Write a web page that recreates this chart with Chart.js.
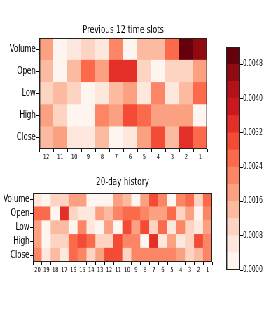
<!DOCTYPE html>
<html>
<head>
<meta charset="utf-8">
<script src="https://cdn.jsdelivr.net/npm/chart.js@4/dist/chart.umd.min.js"></script>
<style>
  body { margin: 0; background: #fff; width: 266px; height: 318px; position: relative; overflow: hidden; }
  #wrap { position: absolute; left: 0; top: 0; width: 380px; height: 318px; transform: scaleX(0.7); transform-origin: 0 0; }
  canvas { position: absolute; }
</style>
</head>
<body>
<div id="wrap">
<canvas id="top" style="left:0;top:20px;width:300px;height:140px"></canvas>
<canvas id="bottom" style="left:0;top:170px;width:306px;height:105px"></canvas>
<canvas id="cbar" style="left:310px;top:40px;width:70px;height:240px"></canvas>
</div>
<script>
const FONT = "'DejaVu Sans', sans-serif";

const rowNames = ['Volume', 'Open', 'Low', 'High', 'Close'];
const slotLabels = ['12', '11', '10', '9', '8', '7', '6', '5', '4', '3', '2', '1'];
const dayLabels = ['20', '19', '18', '17', '16', '15', '14', '13', '12', '11', '10', '9', '8', '7', '6', '5', '4', '3', '2', '1'];

// previous 12 time slots
const slotVolume = [0.0018, 0.0002, 0.0006, 0.0010, 0.0006, 0.0022, 0.0002, 0.0014, 0.0014, 0.0026, 0.0050, 0.0046];
const slotOpen   = [0.0014, 0.0002, 0.0014, 0.0026, 0.0018, 0.0034, 0.0034, 0.0010, 0.0002, 0.0010, 0.0010, 0.0018];
const slotLow    = [0.0010, 0.0014, 0.0010, 0.0002, 0.0006, 0.0014, 0.0018, 0.0006, 0.0022, 0.0006, 0.0014, 0.0026];
const slotHigh   = [0.0018, 0.0010, 0.0002, 0.0002, 0.0022, 0.0018, 0.0030, 0.0026, 0.0018, 0.0018, 0.0018, 0.0002];
const slotClose  = [0.0014, 0.0018, 0.0006, 0.0006, 0.0014, 0.0002, 0.0006, 0.0018, 0.0030, 0.0014, 0.0034, 0.0026];

// 20-day history
const dayVolume = [0.0006, 0.0002, 0.0010, 0.0010, 0.0018, 0.0018, 0.0002, 0.0002, 0.0002, 0.0018, 0.0014, 0.0002, 0.0018, 0.0030, 0.0022, 0.0002, 0.0022, 0.0026, 0.0010, 0.0026];
const dayOpen   = [0.0026, 0.0026, 0.0002, 0.0034, 0.0010, 0.0006, 0.0006, 0.0018, 0.0014, 0.0022, 0.0026, 0.0026, 0.0022, 0.0018, 0.0018, 0.0026, 0.0010, 0.0018, 0.0002, 0.0022];
const dayLow    = [0.0018, 0.0002, 0.0014, 0.0014, 0.0002, 0.0022, 0.0006, 0.0002, 0.0018, 0.0002, 0.0030, 0.0018, 0.0030, 0.0010, 0.0026, 0.0006, 0.0022, 0.0010, 0.0006, 0.0018];
const dayHigh   = [0.0018, 0.0002, 0.0010, 0.0010, 0.0026, 0.0030, 0.0026, 0.0010, 0.0010, 0.0030, 0.0022, 0.0022, 0.0002, 0.0034, 0.0006, 0.0018, 0.0006, 0.0010, 0.0030, 0.0022];
const dayClose  = [0.0022, 0.0006, 0.0014, 0.0006, 0.0026, 0.0022, 0.0010, 0.0018, 0.0030, 0.0030, 0.0010, 0.0022, 0.0022, 0.0022, 0.0022, 0.0022, 0.0018, 0.0010, 0.0014, 0.0022];

// colour bar levels
const levelStep = 0.0004;
const levelCount = 13;
const cbarTicks = [0, 0.0008, 0.0016, 0.0024, 0.0032, 0.0040, 0.0048];
const reds = [
    '#fff5f0', '#fee7dc', '#fdd4c2', '#fcbba1', '#fca082', '#fc8565', '#fb6a4a',
    '#f34b36', '#e32f27', '#cb181d', '#b21218', '#900a12', '#67000d'
];

function colorFor(v) {
    let i = Math.floor(v / levelStep);
    return reds[Math.max(0, Math.min(levelCount - 1, i))];
}

// matplotlib style box round the axes; vertical lines a bit thicker since the page is squeezed
const frame = {
    id: 'frame',
    afterDraw(chart) {
        const a = chart.chartArea, ctx = chart.ctx;
        const l = Math.round(a.left), r = Math.round(a.right);
        const t = Math.round(a.top), b = Math.round(a.bottom);
        ctx.save();
        ctx.strokeStyle = '#222';
        ctx.lineWidth = 1;
        ctx.beginPath();
        ctx.moveTo(l, t + 0.5); ctx.lineTo(r, t + 0.5);
        ctx.moveTo(l, b - 0.5); ctx.lineTo(r, b - 0.5);
        ctx.stroke();
        ctx.lineWidth = 1.4;
        ctx.beginPath();
        ctx.moveTo(l + 0.7, t); ctx.lineTo(l + 0.7, b);
        ctx.moveTo(r - 0.7, t); ctx.lineTo(r - 0.7, b);
        ctx.stroke();
        ctx.restore();
    }
};

// title centred over the plot area, like matplotlib does
const areaTitle = {
    id: 'areaTitle',
    afterDraw(chart, args, opts) {
        if (!opts.text) return;
        const a = chart.chartArea, ctx = chart.ctx;
        ctx.save();
        ctx.fillStyle = '#000';
        ctx.font = '10.5px ' + FONT;
        ctx.textAlign = 'center';
        ctx.textBaseline = 'middle';
        ctx.fillText(opts.text, (a.left + a.right) / 2, opts.y);
        ctx.restore();
    }
};

function heatmap(canvas, title, labels, rows, yWidth, xHeight, padTop, padRight, titleY) {
    // stacked bottom-up: Close, High, Low, Open, Volume
    const order = [4, 3, 2, 1, 0];
    const datasets = order.map(r => ({
        label: rowNames[r],
        data: rows[r].map(() => 1),
        backgroundColor: rows[r].map(colorFor),
        borderWidth: 0,
        barPercentage: 1,
        categoryPercentage: 1
    }));
    return new Chart(canvas, {
        type: 'bar',
        data: { labels: labels, datasets: datasets },
        options: {
            responsive: false,
            animation: false,
            layout: { padding: { left: 0, right: padRight, top: padTop, bottom: 0 } },
            plugins: {
                legend: { display: false },
                tooltip: { enabled: false },
                title: { display: false },
                areaTitle: { text: title, y: titleY }
            },
            scales: {
                x: {
                    stacked: true,
                    grid: { display: true, drawOnChartArea: false, drawTicks: true, tickLength: 3, color: '#000' },
                    border: { display: false },
                    ticks: { color: '#000', font: { family: FONT, size: 7 }, padding: 1, maxRotation: 0, autoSkip: false },
                    afterFit(s) { s.height = xHeight; }
                },
                y: {
                    stacked: true,
                    min: 0,
                    max: 5,
                    grid: { display: true, drawOnChartArea: false, drawTicks: true, tickLength: 4, color: '#000', lineWidth: 1 },
                    border: { display: false },
                    afterBuildTicks(s) {
                        s.ticks = [0.5, 1.5, 2.5, 3.5, 4.5].map(v => ({ value: v }));
                    },
                    ticks: {
                        color: '#000',
                        font: { family: FONT, size: 10 },
                        padding: 1,
                        callback: v => rowNames[4 - Math.floor(v)]
                    },
                    afterFit(s) { s.width = yWidth; }
                }
            }
        },
        plugins: [frame, areaTitle]
    });
}

function setSize(id) {
    const c = document.getElementById(id);
    c.width = parseInt(c.style.width);
    c.height = parseInt(c.style.height);
    return c;
}

heatmap(setSize('top'), 'Previous 12 time slots', slotLabels,
    [slotVolume, slotOpen, slotLow, slotHigh, slotClose], 56, 11, 18, 4, 10.5);

heatmap(setSize('bottom'), '20-day history', dayLabels,
    [dayVolume, dayOpen, dayLow, dayHigh, dayClose], 47, 13, 23, 3, 12.5);

// colour bar
new Chart(setSize('cbar'), {
    type: 'bar',
    data: {
        labels: [''],
        datasets: reds.map(c => ({
            data: [levelStep],
            backgroundColor: c,
            borderWidth: 0,
            barPercentage: 1,
            categoryPercentage: 1
        }))
    },
    options: {
        responsive: false,
        animation: false,
        layout: { padding: { left: 13, right: 0, top: 7, bottom: 10 } },
        plugins: { legend: { display: false }, tooltip: { enabled: false } },
        scales: {
            x: { stacked: true, display: false },
            y: {
                stacked: true,
                position: 'right',
                min: 0,
                max: levelStep * levelCount,
                grid: { display: true, drawOnChartArea: false, drawTicks: true, tickLength: 4, color: '#000' },
                border: { display: false },
                afterBuildTicks(s) {
                    s.ticks = cbarTicks.map(v => ({ value: v }));
                },
                ticks: {
                    color: '#000',
                    font: { family: FONT, size: 8 },
                    padding: 0,
                    callback: v => v.toFixed(4)
                },
                afterFit(s) { s.width = 37; }
            }
        }
    },
    plugins: [frame]
});
</script>
</body>
</html>
